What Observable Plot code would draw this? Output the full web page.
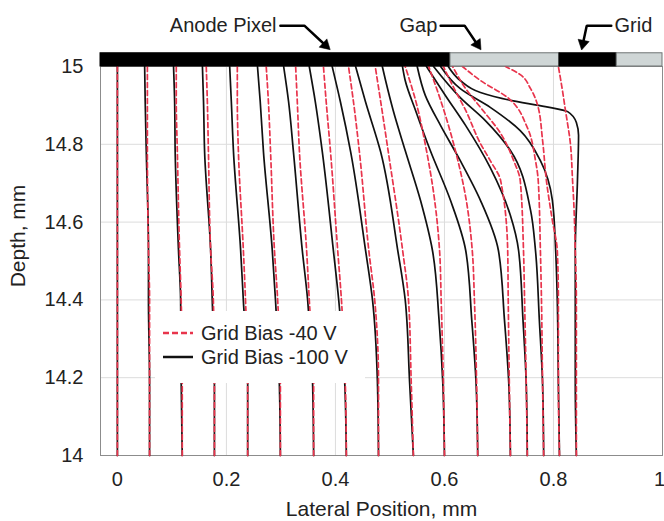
<!DOCTYPE html>
<html><head><meta charset="utf-8">
<script src="https://cdn.jsdelivr.net/npm/d3@7"></script>
<script src="https://cdn.jsdelivr.net/npm/@observablehq/plot@0.6"></script>
<style>
body{margin:0;background:#fff;}
#wrap{position:relative;width:664px;height:521px;font-family:"Liberation Sans",Arial,sans-serif;color:#222;}
#legend{position:absolute;left:155px;top:311px;width:210px;height:72px;background:#fff;}
.row{position:absolute;left:8px;height:24px;display:flex;align-items:center;font-size:20px;white-space:nowrap;}
.row svg{margin-right:8px;}
</style></head><body><div id="wrap"></div>
<script>
// ---- data ----
const xTicks = [0, 0.2, 0.4, 0.6, 0.8, 1];
const yTicks = [14, 14.2, 14.4, 14.6, 14.8, 15];
const seriesNames = ["Grid Bias -40 V", "Grid Bias -100 V"];

// lines 0-9 share depth levels
const depthsA = [14.0, 14.19, 14.4, 14.53, 14.78, 14.91, 15.0];
const black100A = [
  [0, 0, 0, 0, 0, 0, 0],
  [0.059, 0.059, 0.057, 0.057, 0.053, 0.051, 0.050],
  [0.119, 0.117, 0.116, 0.112, 0.106, 0.105, 0.103],
  [0.178, 0.178, 0.174, 0.171, 0.160, 0.158, 0.156],
  [0.239, 0.239, 0.231, 0.226, 0.213, 0.209, 0.206],
  [0.299, 0.297, 0.290, 0.284, 0.268, 0.262, 0.257],
  [0.360, 0.358, 0.349, 0.339, 0.323, 0.314, 0.305],
  [0.420, 0.417, 0.406, 0.396, 0.376, 0.363, 0.352],
  [0.479, 0.477, 0.468, 0.455, 0.428, 0.409, 0.394],
  [0.543, 0.536, 0.528, 0.514, 0.483, 0.455, 0.437]
];
const red40A = [
  [0, 0, 0, 0, 0, 0, 0],
  [0.059, 0.059, 0.059, 0.057, 0.055, 0.055, 0.055],
  [0.119, 0.119, 0.117, 0.114, 0.110, 0.108, 0.108],
  [0.178, 0.178, 0.176, 0.171, 0.167, 0.165, 0.163],
  [0.239, 0.239, 0.235, 0.231, 0.222, 0.220, 0.220],
  [0.299, 0.299, 0.294, 0.288, 0.281, 0.277, 0.273],
  [0.360, 0.360, 0.352, 0.347, 0.334, 0.330, 0.327],
  [0.420, 0.418, 0.411, 0.404, 0.391, 0.383, 0.378],
  [0.479, 0.479, 0.472, 0.461, 0.444, 0.433, 0.424],
  [0.543, 0.539, 0.534, 0.523, 0.497, 0.483, 0.473]
];
// lines 10-16: [lateral, depth] pairs
const black100B = [
  [[0.600,14.0],[0.597,14.185],[0.590,14.35],[0.578,14.527],[0.556,14.656],[0.528,14.784],[0.506,14.887],[0.492,14.964],[0.486,15.0]],
  [[0.661,14.0],[0.658,14.185],[0.650,14.35],[0.639,14.527],[0.611,14.656],[0.574,14.784],[0.547,14.887],[0.528,14.964],[0.523,15.0]],
  [[0.721,14.0],[0.718,14.185],[0.710,14.35],[0.699,14.527],[0.666,14.656],[0.629,14.758],[0.593,14.848],[0.565,14.925],[0.550,15.0]],
  [[0.752,14.0],[0.750,14.185],[0.744,14.35],[0.736,14.527],[0.721,14.617],[0.684,14.740],[0.639,14.848],[0.602,14.925],[0.567,15.0]],
  [[0.782,14.0],[0.780,14.185],[0.774,14.35],[0.767,14.527],[0.758,14.630],[0.721,14.784],[0.675,14.861],[0.629,14.920],[0.580,15.0]],
  [[0.811,14.0],[0.809,14.185],[0.807,14.398],[0.804,14.527],[0.798,14.656],[0.776,14.758],[0.739,14.835],[0.684,14.895],[0.629,14.943],[0.593,15.0]],
  [[0.842,14.0],[0.840,14.185],[0.840,14.398],[0.840,14.527],[0.844,14.707],[0.846,14.823],[0.842,14.856],[0.826,14.884],[0.785,14.897],[0.721,14.913],[0.666,14.933],[0.629,14.964],[0.607,15.0]]
];
const red40B = [
  [[0.600,14.0],[0.598,14.185],[0.594,14.398],[0.591,14.527],[0.582,14.656],[0.567,14.784],[0.547,14.913],[0.528,15.0]],
  [[0.661,14.0],[0.659,14.185],[0.655,14.398],[0.651,14.527],[0.640,14.656],[0.620,14.784],[0.593,14.913],[0.571,15.0]],
  [[0.721,14.0],[0.719,14.185],[0.717,14.398],[0.716,14.527],[0.703,14.707],[0.684,14.758],[0.666,14.802],[0.639,14.887],[0.615,14.951],[0.598,15.0]],
  [[0.752,14.0],[0.750,14.185],[0.747,14.398],[0.745,14.527],[0.739,14.707],[0.727,14.758],[0.703,14.828],[0.666,14.895],[0.639,14.943],[0.615,15.0]],
  [[0.782,14.0],[0.780,14.185],[0.778,14.398],[0.776,14.527],[0.772,14.707],[0.767,14.758],[0.752,14.843],[0.716,14.920],[0.666,14.964],[0.633,15.0]],
  [[0.811,14.0],[0.809,14.185],[0.809,14.398],[0.807,14.527],[0.798,14.604],[0.787,14.707],[0.780,14.810],[0.771,14.900],[0.758,14.943],[0.739,14.979],[0.712,15.0]],
  [[0.842,14.0],[0.842,14.185],[0.842,14.398],[0.840,14.527],[0.837,14.656],[0.835,14.707],[0.831,14.802],[0.822,14.887],[0.815,14.951],[0.809,15.0]]
];

// electrode bar along the surface
const segStart = [-0.031, 0.611, 0.811, 0.916];
const segEnd = [0.611, 0.811, 0.916, 1.0];
const segKind = ["metal", "gap", "metal", "gap"];
const barDepth = [15.0, 15.034];

// annotations
const annoText = ["Anode Pixel", "Gap", "Grid"];
const annoX = [0.292, 0.587, 0.912];
const annoAnchor = ["end", "end", "start"];
const annoDepth = 15.105;
const arrowStartX = [0.299, 0.593, 0.906];
const arrowElbowX = [0.343, 0.637, 0.861];
const arrowTipX = [0.389, 0.666, 0.852];
const arrowTipDepth = 15.045;

// ---- layout constants ----
const W = 664, H = 521, ML = 100, MR = 2, MT = 66, MB = 66;
const xDomain = [-0.031, 1], yDomain = [14, 15];
const kx = (W - ML - MR) / (xDomain[1] - xDomain[0]);
const ky = (H - MT - MB) / (yDomain[1] - yDomain[0]);

// ---- build tables ----
const rows = [];
function addA(arr, series) {
  arr.forEach((xs, i) => xs.forEach((x, j) => rows.push({series, id: series + i, x, d: depthsA[j]})));
}
function addB(arr, series) {
  arr.forEach((pts, i) => pts.forEach(([x, d]) => rows.push({series, id: series + (i + 10), x, d})));
}
addA(black100A, "b"); addB(black100B, "b");
addA(red40A, "r"); addB(red40B, "r");
const blackRows = rows.filter(r => r.series === "b");
const redRows = rows.filter(r => r.series === "r");

const segs = segStart.map((s, i) => ({x1: s, x2: segEnd[i], kind: segKind[i]}));
const annoIdx = d3.range(annoText.length);
const endIdx = annoIdx.filter(i => annoAnchor[i] === "end");
const startIdx = annoIdx.filter(i => annoAnchor[i] === "start");

// arrow heads: filled triangle whose tip sits on the arrow tip
const HEAD_BACK = 5.5;
const heads = annoIdx.map(i => {
  const dxp = (arrowTipX[i] - arrowElbowX[i]) * kx;
  const dyp = (annoDepth - arrowTipDepth) * ky;
  const len = Math.hypot(dxp, dyp);
  const ux = dxp / len, uy = dyp / len;
  return {
    i,
    x: arrowTipX[i] - HEAD_BACK * ux / kx,
    d: arrowTipDepth + HEAD_BACK * uy / ky,
    rot: Math.atan2(dxp, -dyp) * 180 / Math.PI
  };
});
const arrowRows = annoIdx.flatMap(i => [
  {i, x: arrowStartX[i], d: annoDepth},
  {i, x: arrowElbowX[i], d: annoDepth},
  {i, x: heads[i].x, d: heads[i].d}
]);

const RED = "#e8344c";
const font = "Liberation Sans, Arial, sans-serif";
const annoTextMark = (idx, anchor) => Plot.text(idx, {x: i => annoX[i], y: () => annoDepth, text: i => annoText[i],
  textAnchor: anchor, fontSize: 20, fill: "#222"});

const chart = Plot.plot({
  width: W, height: H,
  marginLeft: ML, marginRight: MR, marginTop: MT, marginBottom: MB,
  style: {fontFamily: font, fontSize: "20px", color: "#222", background: "#fff"},
  x: {domain: xDomain},
  y: {domain: yDomain},
  marks: [
    Plot.gridX(xTicks.slice(1, -1), {stroke: "#dcdcdc", strokeOpacity: 1}),
    Plot.gridY(yTicks.slice(1, -1), {stroke: "#dcdcdc", strokeOpacity: 1}),
    Plot.frame({stroke: "#8c8c8c"}),
    Plot.line(blackRows, {x: "x", y: "d", z: "id", stroke: "#111", strokeWidth: 1.7, curve: "monotone-y"}),
    Plot.line(redRows, {x: "x", y: "d", z: "id", stroke: RED, strokeWidth: 1.7, strokeDasharray: "5,3", curve: "monotone-y"}),
    Plot.rect(segs, {x1: "x1", x2: "x2", y1: () => barDepth[0], y2: () => barDepth[1],
      fill: d => d.kind === "metal" ? "#000" : "#cfd6d6",
      stroke: d => d.kind === "metal" ? "#000" : "#6f7474", strokeWidth: 1}),
    Plot.line(arrowRows, {x: "x", y: "d", z: "i", stroke: "#000", strokeWidth: 2.5, strokeLinejoin: "miter"}),
    Plot.dot(heads, {x: "x", y: "d", symbol: "triangle", r: 4.2, rotate: "rot", fill: "#000", stroke: "#000", strokeWidth: 0.5}),
    annoTextMark(endIdx, "end"),
    annoTextMark(startIdx, "start"),
    Plot.axisX(xTicks.slice(0, -1), {tickSize: 0, tickPadding: 16, tickFormat: d => String(d), label: null, fontSize: 20}),
    Plot.axisX(xTicks.slice(-1), {tickSize: 0, tickPadding: 16, tickFormat: d => String(d), label: null, fontSize: 20, dx: -3}),
    Plot.axisY(yTicks, {tickSize: 0, tickPadding: 17, tickFormat: d => String(d), label: null, fontSize: 20}),
    Plot.text(["Lateral Position, mm"], {frameAnchor: "bottom", text: d => d, textAnchor: "middle", lineAnchor: "middle", dy: 54, fontSize: 21, fill: "#222"}),
    Plot.text(["Depth, mm"], {frameAnchor: "left", text: d => d, textAnchor: "middle", lineAnchor: "middle", rotate: -90, dx: -82, dy: -25, fontSize: 21, fill: "#222"})
  ]
});
const wrap = document.getElementById("wrap");
wrap.appendChild(chart);

// legend (overlay box, white background like the reference)
const legend = document.createElement("div");
legend.id = "legend";
const styles = [{stroke: RED, dash: "6,3"}, {stroke: "#111", dash: null}];
seriesNames.forEach((name, i) => {
  const row = document.createElement("div");
  row.className = "row";
  row.style.top = (10 + i * 24) + "px";
  const sw = d3.create("svg").attr("width", 30).attr("height", 10);
  sw.append("line").attr("x1", 0).attr("x2", 30).attr("y1", 5).attr("y2", 5)
    .attr("stroke", styles[i].stroke).attr("stroke-width", 2.5)
    .attr("stroke-dasharray", styles[i].dash);
  row.appendChild(sw.node());
  const t = document.createElement("span");
  t.textContent = name;
  row.appendChild(t);
  legend.appendChild(row);
});
wrap.appendChild(legend);
</script></body></html>
